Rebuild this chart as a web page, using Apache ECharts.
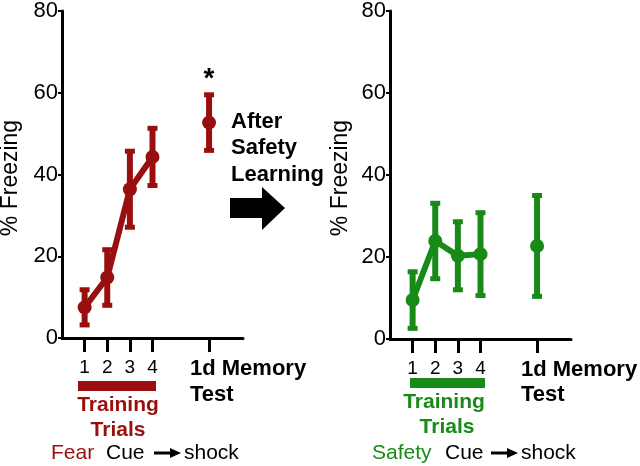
<!DOCTYPE html>
<html>
<head>
<meta charset="utf-8">
<script src="https://cdn.jsdelivr.net/npm/echarts@6/dist/echarts.min.js"></script>
<style>html,body{margin:0;padding:0;background:#fff}#c{width:640px;height:466px}</style>
</head>
<body>
<div id="c"></div>
<script>
// ---- data ----
const trialX = [1, 2, 3, 4];
const memoryX = 6.5;
const xTickValues = [1, 2, 3, 4, 6.5];
const xTickLabels = ['1', '2', '3', '4', ''];
const yTicks = [0, 20, 40, 60, 80];

const fearMean = [7.5, 14.8, 36.4, 44.3];
const fearErr = [4.3, 6.8, 9.3, 7.0];
const fearMemMean = 52.7;
const fearMemErr = 6.8;

const safetyMean = [9.5, 23.9, 20.3, 20.7];
const safetyErr = [6.9, 9.2, 8.3, 10.1];
const safetyMemMean = 22.7;
const safetyMemErr = 12.3;

const RED = '#990f0f';
const GREEN = '#178a17';
const FONT = '"Liberation Sans", Arial, sans-serif';

const chart = echarts.init(document.getElementById('c'), null, {renderer: 'canvas'});

function errData(xs, means, errs) {
  return xs.map((x, i) => [x, means[i] - errs[i], means[i] + errs[i]]);
}

function errRender(color) {
  return function (params, api) {
    const x = api.value(0);
    const lo = api.coord([x, api.value(1)]);
    const hi = api.coord([x, api.value(2)]);
    const cw = 10, ch = 5;
    return {
      type: 'group',
      children: [
        {type: 'rect', shape: {x: lo[0] - 3, y: hi[1], width: 6, height: lo[1] - hi[1]}, style: {fill: color}},
        {type: 'rect', shape: {x: hi[0] - cw / 2, y: hi[1] - ch / 2, width: cw, height: ch}, style: {fill: color}},
        {type: 'rect', shape: {x: lo[0] - cw / 2, y: lo[1] - ch / 2, width: cw, height: ch}, style: {fill: color}}
      ]
    };
  };
}

function xAxisDef(gi) {
  return {
    type: 'value', gridIndex: gi, min: 0, max: 8,
    axisLine: {show: true, lineStyle: {color: '#000', width: 3}},
    axisTick: {show: true, customValues: xTickValues, length: 14, lineStyle: {color: '#000', width: 3}},
    axisLabel: {show: true, customValues: xTickValues.slice(0, 4),
      formatter: v => xTickLabels[xTickValues.indexOf(v)] || '',
      margin: 20, color: '#000', fontSize: 19, fontFamily: FONT},
    splitLine: {show: false}
  };
}
function yAxisDef(gi) {
  return {
    type: 'value', gridIndex: gi, min: 0, max: 80, interval: 20,
    axisLine: {show: true, lineStyle: {color: '#000', width: 3}},
    axisTick: {show: true, length: 4, lineStyle: {color: '#000', width: 2}},
    axisLabel: {show: true, margin: 4, color: '#000', fontSize: 22, fontFamily: FONT,
      formatter: v => yTicks.includes(v) ? String(v) : ''},
    splitLine: {show: false}
  };
}

function text(x, y, str, opts) {
  return {
    type: 'text', x: x, y: y,
    style: Object.assign({text: str, fontFamily: FONT, fontSize: 21, fill: '#000', textVerticalAlign: 'middle'}, opts || {})
  };
}
function arrow(x1, x2, y) {
  return [
    {type: 'line', shape: {x1: x1, y1: y, x2: x2 - 8, y2: y}, style: {stroke: '#000', lineWidth: 3}},
    {type: 'polygon', shape: {points: [[x2 - 11, y - 5], [x2, y], [x2 - 11, y + 5]]}, style: {fill: '#000'}}
  ];
}

const option = {
  animation: false,
  backgroundColor: '#fff',
  grid: [
    {left: 62, top: 4, width: 181, height: 334},
    {left: 390, top: 5, width: 181, height: 334}
  ],
  xAxis: [xAxisDef(0), xAxisDef(1)],
  yAxis: [yAxisDef(0), yAxisDef(1)],
  series: [
    {type: 'custom', xAxisIndex: 0, yAxisIndex: 0, renderItem: errRender(RED),
      data: errData(trialX.concat([memoryX]), fearMean.concat([fearMemMean]), fearErr.concat([fearMemErr])), z: 2},
    {type: 'line', xAxisIndex: 0, yAxisIndex: 0, data: trialX.map((x, i) => [x, fearMean[i]]),
      lineStyle: {color: RED, width: 6}, itemStyle: {color: RED, opacity: 1}, symbol: 'circle', symbolSize: 14, z: 3},
    {type: 'scatter', xAxisIndex: 0, yAxisIndex: 0, data: [[memoryX, fearMemMean]],
      itemStyle: {color: RED, opacity: 1}, symbol: 'circle', symbolSize: 14, z: 3,
      label: {show: true, position: 'top', distance: 22, formatter: '*', fontSize: 28, fontWeight: 'bold', color: '#000', fontFamily: FONT}},
    {type: 'custom', xAxisIndex: 1, yAxisIndex: 1, renderItem: errRender(GREEN),
      data: errData(trialX.concat([memoryX]), safetyMean.concat([safetyMemMean]), safetyErr.concat([safetyMemErr])), z: 2},
    {type: 'line', xAxisIndex: 1, yAxisIndex: 1, data: trialX.map((x, i) => [x, safetyMean[i]]),
      lineStyle: {color: GREEN, width: 6}, itemStyle: {color: GREEN, opacity: 1}, symbol: 'circle', symbolSize: 14, z: 3},
    {type: 'scatter', xAxisIndex: 1, yAxisIndex: 1, data: [[memoryX, safetyMemMean]],
      itemStyle: {color: GREEN, opacity: 1}, symbol: 'circle', symbolSize: 14, z: 3}
  ],
  graphic: [
    // y-axis titles
    {type: 'text', x: 11, y: 178, rotation: Math.PI / 2, style: {text: '% Freezing', fontFamily: FONT, fontSize: 23, fill: '#000', textAlign: 'center', textVerticalAlign: 'middle'}},
    {type: 'text', x: 341, y: 178, rotation: Math.PI / 2, style: {text: '% Freezing', fontFamily: FONT, fontSize: 23, fill: '#000', textAlign: 'center', textVerticalAlign: 'middle'}},
    // left panel bottom annotations
    text(190, 369, '1d Memory', {fontWeight: 'bold', fontSize: 22}),
    text(190, 395, 'Test', {fontWeight: 'bold', fontSize: 22}),
    {type: 'rect', shape: {x: 78, y: 381, width: 78, height: 10}, style: {fill: RED}},
    text(118, 405, 'Training', {fontWeight: 'bold', fill: RED, textAlign: 'center'}),
    text(118, 430, 'Trials', {fontWeight: 'bold', fill: RED, textAlign: 'center'}),
    text(51, 453, 'Fear', {fill: RED}),
    text(106, 453, 'Cue'),
    ...arrow(154, 181, 453),
    text(184, 453, 'shock'),
    // right panel bottom annotations
    text(521, 370, '1d Memory', {fontWeight: 'bold', fontSize: 22}),
    text(521, 395, 'Test', {fontWeight: 'bold', fontSize: 22}),
    {type: 'rect', shape: {x: 410, y: 378, width: 75, height: 10}, style: {fill: GREEN}},
    text(444, 402, 'Training', {fontWeight: 'bold', fill: GREEN, textAlign: 'center'}),
    text(447, 427, 'Trials', {fontWeight: 'bold', fill: GREEN, textAlign: 'center'}),
    text(372, 453, 'Safety', {fill: GREEN}),
    text(445, 453, 'Cue'),
    ...arrow(491, 518, 453),
    text(521, 453, 'shock'),
    // middle annotation
    text(231, 122, 'After', {fontWeight: 'bold', fontSize: 22}),
    text(231, 148, 'Safety', {fontWeight: 'bold', fontSize: 22}),
    text(231, 175, 'Learning', {fontWeight: 'bold', fontSize: 22}),
    {type: 'polygon', shape: {points: [[230, 198], [262, 198], [262, 187], [285, 208], [262, 230], [262, 218], [230, 218]]}, style: {fill: '#000'}}
  ]
};
chart.setOption(option);
</script>
</body>
</html>
